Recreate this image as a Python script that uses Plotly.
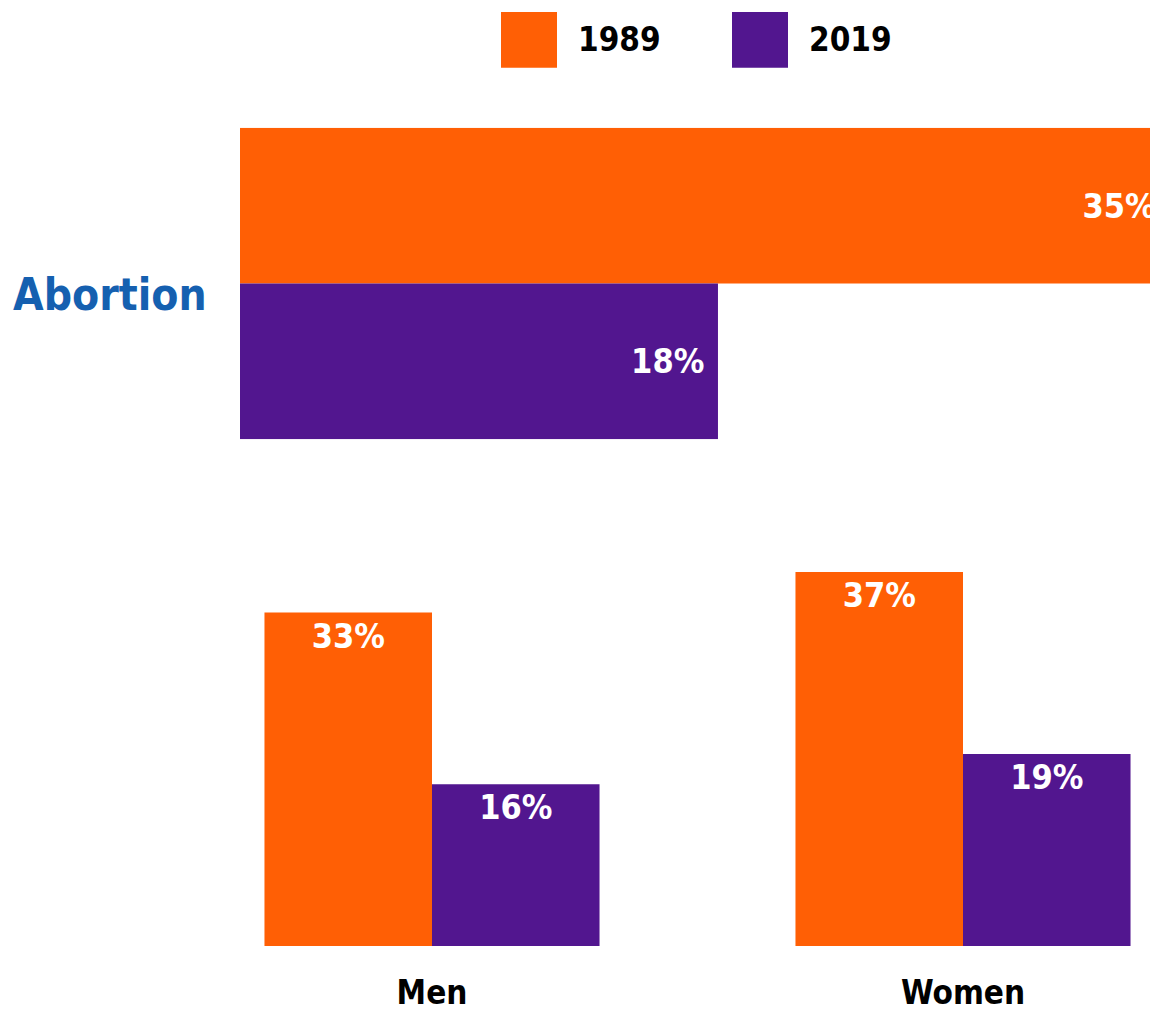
import plotly.graph_objects as go

# ---- data ----
years = ["1989", "2019"]
topic = ["Abortion"]
topic_values_1989 = [35]
topic_values_2019 = [18]
groups = ["Men", "Women"]
group_values_1989 = [33, 37]
group_values_2019 = [16, 19]

colors = {"1989": "#FF5F05", "2019": "#52168F"}
FONT = "DejaVu Sans Condensed, Liberation Sans Narrow, Arial Narrow, sans-serif"
W, H = 1150, 1012

fig = go.Figure()

top_vals = {"1989": topic_values_1989, "2019": topic_values_2019}
grp_vals = {"1989": group_values_1989, "2019": group_values_2019}

for yr in years:
    fig.add_trace(go.Bar(
        x=top_vals[yr], y=topic, orientation="h", name=yr,
        marker=dict(color=colors[yr], line=dict(width=0)),
        text=[f"{v}%\u00a0" for v in top_vals[yr]],
        textposition="inside", insidetextanchor="end",
        textfont=dict(family=FONT, size=34, color="white", weight="bold"),
        xaxis="x", yaxis="y", showlegend=False,
    ))

for yr in years:
    fig.add_trace(go.Bar(
        x=groups, y=grp_vals[yr], name=yr,
        marker=dict(color=colors[yr], line=dict(width=0)),
        text=[f"{v}%" for v in grp_vals[yr]],
        textposition="inside", insidetextanchor="end",
        textfont=dict(family=FONT, size=34, color="white", weight="bold"),
        xaxis="x2", yaxis="y2", showlegend=False,
    ))

gap = 0.369
half = (1 - gap) / 2

def py(px):
    return 1 - px / H

def pxx(px):
    return px / W

fig.update_layout(
    width=W, height=H,
    margin=dict(l=0, r=0, t=0, b=0),
    paper_bgcolor="white", plot_bgcolor="white",
    barmode="group", bargap=gap, bargroupgap=0,
    showlegend=False,
    xaxis=dict(domain=[pxx(240), 1], range=[0, 34.27], visible=False, fixedrange=True),
    yaxis=dict(domain=[py(440), py(128)], range=[half, -half], visible=False),
    xaxis2=dict(domain=[pxx(166.5), 1], range=[-0.5, -0.5 + (W - 166.5) / 531],
                showgrid=False, zeroline=False, showline=False, ticks="",
                ticklabelstandoff=24,
                tickfont=dict(family=FONT, size=33, color="black", weight="bold"),
                anchor="y2"),
    yaxis2=dict(domain=[py(948), py(500)], range=[0, (948 - 500) / 10.13], visible=False, anchor="x2"),
)

# category label for the top panel
fig.add_annotation(text=topic[0], xref="paper", yref="paper", x=pxx(110), y=py(295),
                   xanchor="center", yanchor="middle", showarrow=False,
                   font=dict(family=FONT, size=44, color="#1560B0", weight="bold"))

# legend (swatches + labels)
leg_x = {"1989": 501, "2019": 732}
for yr in years:
    fig.add_shape(type="rect", xref="paper", yref="paper",
                  x0=pxx(leg_x[yr]), x1=pxx(leg_x[yr] + 56), y0=py(68), y1=py(12),
                  fillcolor=colors[yr], line=dict(width=0))
    fig.add_annotation(text=yr, xref="paper", yref="paper", x=pxx(leg_x[yr] + 75), y=py(40),
                       xanchor="left", yanchor="middle", showarrow=False,
                       font=dict(family=FONT, size=33, color="black", weight="bold"))

fig.write_html("out.html", config={"displayModeBar": False},
               post_script="document.body.style.margin='0';")
